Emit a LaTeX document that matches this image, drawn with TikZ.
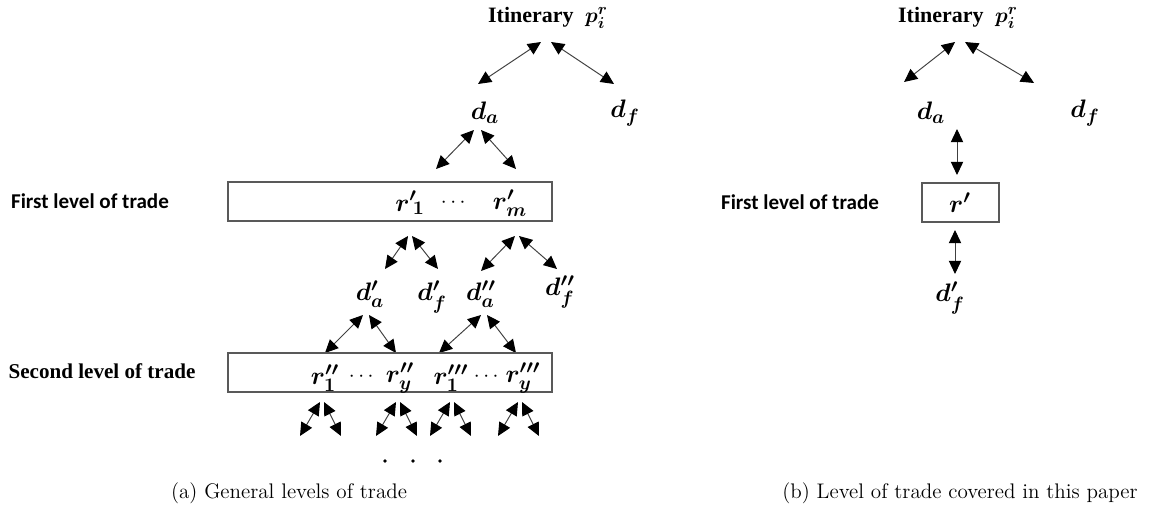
\documentclass[tikz,border=0pt]{standalone}
\usepackage{amsmath}
\usepackage{bm}
\usepackage{fontspec}
\newfontfamily\timesfont{Liberation Serif}
\newfontfamily\calibfont{Carlito}
\usepackage{tikz}
\usetikzlibrary{arrows.meta, positioning}

\begin{document}
\begin{tikzpicture}[x=0.02cm, y=-0.02cm, >={Triangle[length=7.5pt,width=7pt,color=black]},
  link/.style={<->, draw=black!75, line width=0.55pt},
  lvlbox/.style={draw=black!65, line width=1pt, inner sep=0pt, minimum height=0.78cm},
  sym/.style={inner sep=0pt, font=\fontsize{15}{18}\selectfont},
  dotsym/.style={inner sep=0pt, font=\fontsize{13}{15}\selectfont},
  title/.style={inner sep=0pt, font=\timesfont\bfseries\fontsize{12.5}{15}\selectfont},
  tlabel/.style={inner sep=0pt, font=\timesfont\bfseries\fontsize{12}{14}\selectfont},
  clabel/.style={inner sep=0pt, font=\calibfont\bfseries\fontsize{12}{14}\selectfont},
  capt/.style={inner sep=0pt, font=\fontsize{12}{14}\selectfont}]
  \useasboundingbox (0,0) rectangle (1158,513);

  % (a) general levels of trade
  \node[title] (itA) at (548,18) {Itinerary\; $\bm{p_i^r}$};
  \node[sym] (daA) at (485,113) {$\bm{d_a}$};
  \node[sym] (dfA) at (625,113) {$\bm{d_f}$};
  \coordinate (tA1) at (541,42);  \coordinate (tA2) at (551,42);
  \coordinate (tAl) at (478,84);  \coordinate (tAr) at (614,84);
  \draw[link] (tA1) -- (tAl);
  \draw[link] (tA2) -- (tAr);
  \coordinate (dA1) at (474,130); \coordinate (dA2) at (481,130);
  \coordinate (dAl) at (436,169); \coordinate (dAr) at (516,169);
  \draw[link] (dA1) -- (dAl);
  \draw[link] (dA2) -- (dAr);

  \node[clabel] (firstA) at (90,201) {First level of trade};
  \node[lvlbox, minimum width=6.48cm] (lvlA) at (390,201.5) {};
  \node[sym] (r1) at (410,203) {${\bm{r'}}\!_{\bm{1}}$};
  \node[dotsym] (dots1) at (455,203) {$\cdots$};
  \node[sym] (rm) at (510,203) {$\bm{r'_m}$};

  % forks under the first level
  \foreach \x/\n in {410/a, 517/b} {
    \coordinate (u\n1) at (\x-2,236); \coordinate (u\n2) at (\x+2,236);
  }
  \coordinate (ual) at (385,269); \coordinate (uar) at (438,269);
  \coordinate (ubl) at (481,271); \coordinate (ubr) at (557,269);
  \draw[link] (ua1) -- (ual);  \draw[link] (ua2) -- (uar);
  \draw[link] (ub1) -- (ubl);  \draw[link] (ub2) -- (ubr);

  \node[sym] (d1a) at (370,294) {$\bm{d'_a}$};
  \node[sym] (d1f) at (432,297) {$\bm{d'_f}$};
  \node[sym] (d2a) at (481,294) {$\bm{d''_a}$};
  \node[sym] (d2f) at (560,292) {$\bm{d''_f}$};

  \coordinate (va1) at (363,315); \coordinate (va2) at (369,315);
  \coordinate (val) at (325,353); \coordinate (var) at (396,353);
  \coordinate (vb1) at (481,315); \coordinate (vb2) at (487,315);
  \coordinate (vbl) at (439,353); \coordinate (vbr) at (516,353);
  \draw[link] (va1) -- (val);  \draw[link] (va2) -- (var);
  \draw[link] (vb1) -- (vbl);  \draw[link] (vb2) -- (vbr);

  \node[tlabel] (secondA) at (102,371) {Second level of trade};
  \node[lvlbox, minimum width=6.48cm] (lvlB) at (390,372.5) {};
  \node[sym] (s1) at (325,378) {$\bm{r''_1}$};
  \node[dotsym] (dots2) at (363,377) {$\cdots$};
  \node[sym] (sy) at (400,378) {$\bm{r''_y}$};
  \node[sym] (t1) at (451,378) {$\bm{r'''_1}$};
  \node[dotsym] (dots3) at (488,377) {$\cdots$};
  \node[sym] (ty) at (523,378) {$\bm{r'''_y}$};

  % forks under the second level
  \foreach \x [count=\k] in {322, 398, 452, 520} {
    \coordinate (w\k1) at (\x-2,402); \coordinate (w\k2) at (\x+2,402);
    \coordinate (w\k l) at (\x-22,436); \coordinate (w\k r) at (\x+19,436);
    \draw[link] (w\k1) -- (w\k l);
    \draw[link] (w\k2) -- (w\k r);
  }
  \foreach \x [count=\k] in {385, 413, 440}
    \fill (\x,461) circle (1.1pt) coordinate (dot\k);

  \node[capt] (captA) at (289,493) {(a) General levels of trade};

  % (b) level of trade covered in this paper
  \node[title] (itB) at (958,18) {Itinerary\; $\bm{p_i^r}$};
  \node[sym] (daB) at (931,113) {$\bm{d_a}$};
  \node[sym] (dfB) at (1085,113) {$\bm{d_f}$};
  \coordinate (tB1) at (955,42);  \coordinate (tB2) at (965,42);
  \coordinate (tBl) at (904,82);  \coordinate (tBr) at (1034,83);
  \draw[link] (tB1) -- (tBl);
  \draw[link] (tB2) -- (tBr);

  \node[clabel] (firstB) at (800,202) {First level of trade};
  \node[lvlbox, minimum width=1.54cm] (lvlC) at (960.5,202.5) {};
  \node[sym] (rB) at (960,203) {$\bm{r'}$};
  \coordinate (aB1) at (957,129); \coordinate (aB2) at (957,175);
  \coordinate (bB1) at (955,230); \coordinate (bB2) at (955,274);
  \draw[link] (aB1) -- (aB2);
  \draw[link] (bB1) -- (bB2);
  \node[sym] (dfB2) at (950,298) {$\bm{d'_f}$};

  \node[capt] (captB) at (960,493) {(b) Level of trade covered in this paper};
\end{tikzpicture}
\end{document}
